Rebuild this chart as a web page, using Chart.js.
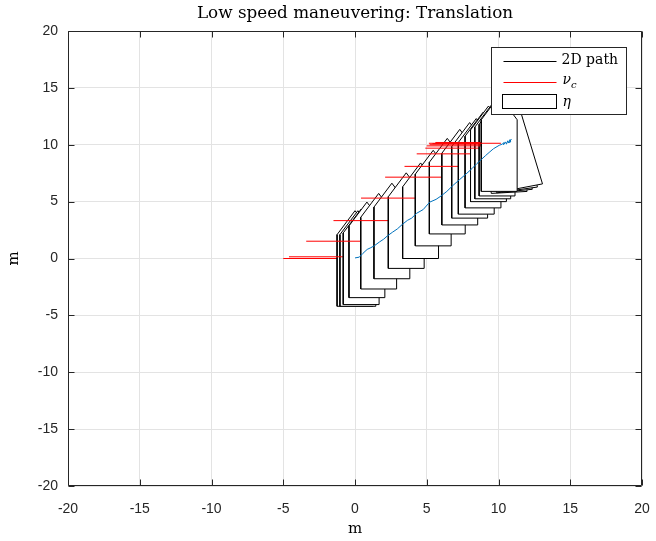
<!DOCTYPE html>
<html lang="en">
<head>
<meta charset="UTF-8">
<title>Low speed maneuvering: Translation</title>
<style>
  html, body { margin: 0; padding: 0; background: #fff; }
  #chart { display: block; }
</style>
</head>
<body>
<canvas id="chart" width="656" height="541"></canvas>
<script src="https://cdn.jsdelivr.net/npm/chart.js@4/dist/chart.umd.min.js"></script>
<script>
const axisTicks = [-20, -15, -10, -5, 0, 5, 10, 15, 20]

// 2D path (drawn blue)
const pathX = [0.00, 0.30, 0.55, 0.85, 1.10, 1.35, 1.70, 2.00, 2.25, 2.60, 2.95, 3.30, 3.65, 3.95, 4.30, 4.75, 5.20, 5.65, 6.00, 6.40,
  6.85, 7.30, 7.80, 8.15, 8.50, 8.80, 9.10, 9.40, 9.65, 10.05, 10.25, 10.40, 10.35, 10.50, 10.55, 10.65, 10.70, 10.80, 10.85, 10.75, 10.90]
const pathY = [0.05, 0.12, 0.45, 0.80, 0.95, 1.12, 1.45, 1.70, 1.98, 2.30, 2.60, 3.00, 3.35, 3.55, 3.98, 4.30, 4.95, 5.20, 5.50, 5.90,
  6.45, 6.95, 7.50, 7.90, 8.35, 8.70, 9.05, 9.38, 9.65, 9.95, 10.05, 10.20, 10.00, 10.25, 10.05, 10.35, 10.15, 10.45, 10.25, 10.20, 10.50]

// eta: vessel position and heading (deg) for each outline
const etaX = [0.00, 0.20, 0.43, 0.83, 1.65, 2.57, 3.57, 4.57, 5.45, 6.43, 7.30, 7.99, 8.45, 8.92, 9.30, 9.60, 9.90, 10.45, 10.60, 10.75, 10.87, 10.05]
const etaY = [0.00, 0.00, 0.15, 0.76, 1.52, 2.42, 3.33, 4.20, 5.31, 6.36, 7.15, 7.75, 8.10, 8.65, 9.20, 9.45, 9.70, 10.00, 10.10, 10.20, 10.35, 10.10]
const etaPsi = [0, 0, 0, 0, 0, 0, 0, 0, 0, 0, 0, 0, 0, 0, 0, 0, 0, 4, 7, 10, 13.5, 0]

// nu_c: current vectors, drawn just under outline number nucEta
const nucX0 = [-5.00, -4.60, -3.40, -1.50, 0.42, 2.10, 3.45, 4.30, 4.90, 5.00, 5.20, 5.40, 5.60, 5.15]
const nucX1 = [0.00, 0.43, 1.65, 3.57, 5.45, 7.30, 8.45, 9.30, 9.90, 10.45, 10.60, 10.75, 10.87, 10.17]
const nucY = [0.00, 0.15, 1.52, 3.33, 5.31, 7.15, 8.10, 9.20, 9.70, 9.90, 10.00, 10.10, 10.20, 10.13]
const nucEta = [0, 2, 4, 6, 8, 10, 12, 14, 16, 17, 18, 19, 20, 22]

// hull outline in body frame (lateral, forward)
const hullHalfBeam = 1.25
const hullHalfLength = 4.2
const hullShoulder = 2.1

function hullPoints(cx, cy, psiDeg) {
  const b = hullHalfBeam, l = hullHalfLength, s = hullShoulder
  const body = [[-b, -l], [b, -l], [b, s], [0, l], [-b, s], [-b, -l]]
  const r = psiDeg * Math.PI / 180
  const c = Math.cos(r), sn = Math.sin(r)
  return body.map(([px, py]) => ({ x: cx + px * c - py * sn, y: cy + px * sn + py * c }))
}

const layers = []
for (let i = 0; i <= etaX.length; i++) {
  nucEta.forEach((e, j) => {
    if (e === i) {
      layers.push({
        data: [{ x: nucX0[j], y: nucY[j] }, { x: nucX1[j], y: nucY[j] }],
        showLine: true, pointRadius: 0, borderColor: '#ff0000', borderWidth: 1, fill: false
      })
    }
  })
  if (i < etaX.length) {
    layers.push({
      data: hullPoints(etaX[i], etaY[i], etaPsi[i]),
      showLine: true, pointRadius: 0, borderColor: '#000000', borderWidth: 1,
      backgroundColor: '#ffffff', fill: 'shape', borderJoinStyle: 'miter'
    })
  }
}
layers.push({
  data: pathX.map((x, i) => ({ x: x, y: pathY[i] })),
  showLine: true, pointRadius: 0, borderColor: '#0072bd', borderWidth: 1, fill: false
})
layers.forEach((ds, i) => { ds.order = layers.length - i })

const tickFont = { family: 'Liberation Sans', size: 14 }
const serif = 'DejaVu Serif'

// MATLAB style box with inward ticks
const axesBox = {
  id: 'axesBox',
  afterDatasetsDraw(chart) {
    const { ctx, chartArea: a, scales } = chart
    const l = Math.round(a.left) + 0.5, r = Math.round(a.right) - 0.5
    const t = Math.round(a.top) + 0.5, b = Math.round(a.bottom) - 0.5
    ctx.save()
    ctx.strokeStyle = '#262626'
    ctx.lineWidth = 1
    ctx.beginPath()
    ctx.rect(l, t, r - l, b - t)
    axisTicks.forEach(v => {
      const px = Math.round(scales.x.getPixelForValue(v)) + 0.5
      ctx.moveTo(px, b); ctx.lineTo(px, b - 6)
      ctx.moveTo(px, t); ctx.lineTo(px, t + 6)
      const py = Math.round(scales.y.getPixelForValue(v)) + 0.5
      ctx.moveTo(l, py); ctx.lineTo(l + 6, py)
      ctx.moveTo(r, py); ctx.lineTo(r - 6, py)
    })
    ctx.stroke()
    ctx.restore()
  }
}

const legendBox = {
  id: 'legendBox',
  afterDraw(chart) {
    const { ctx, chartArea: a } = chart
    const x0 = Math.round(a.right) - 150.5, y0 = Math.round(a.top) + 16.5
    ctx.save()
    ctx.fillStyle = '#fff'
    ctx.strokeStyle = '#262626'
    ctx.lineWidth = 1
    ctx.fillRect(x0, y0, 135, 67)
    ctx.strokeRect(x0, y0, 135, 67)

    ctx.lineWidth = 1
    ctx.strokeStyle = '#000'
    ctx.beginPath(); ctx.moveTo(x0 + 12, y0 + 14); ctx.lineTo(x0 + 65, y0 + 14); ctx.stroke()
    ctx.strokeStyle = '#ff0000'
    ctx.beginPath(); ctx.moveTo(x0 + 12, y0 + 35); ctx.lineTo(x0 + 65, y0 + 35); ctx.stroke()
    ctx.strokeStyle = '#000'
    ctx.strokeRect(x0 + 11, y0 + 47, 54, 14)

    ctx.fillStyle = '#000'
    ctx.textBaseline = 'middle'
    ctx.font = '14px "' + serif + '"'
    ctx.fillText('2D path', x0 + 70, y0 + 13)
    ctx.font = 'italic 14px "' + serif + '"'
    ctx.fillText('ν', x0 + 71, y0 + 33)
    const w = ctx.measureText('ν').width
    ctx.font = 'italic 10px "' + serif + '"'
    ctx.fillText('c', x0 + 71 + w, y0 + 38)
    ctx.font = 'italic 14px "' + serif + '"'
    ctx.fillText('η', x0 + 71, y0 + 55)
    ctx.restore()
  }
}

new Chart(document.getElementById('chart'), {
  type: 'scatter',
  data: { datasets: layers },
  options: {
    responsive: false,
    animation: false,
    events: [],
    layout: { padding: { left: 0, right: 14, top: 0, bottom: 0 } },
    plugins: {
      legend: { display: false },
      tooltip: { enabled: false },
      title: {
        display: true,
        fullSize: false,
        text: 'Low speed maneuvering: Translation',
        color: '#000',
        font: { family: serif, size: 16.8, weight: 'normal' },
        padding: { top: 3.2, bottom: 7.64 }
      }
    },
    scales: {
      x: {
        type: 'linear', min: -20, max: 20,
        afterBuildTicks: s => { s.ticks = axisTicks.map(v => ({ value: v })) },
        afterFit: s => { s.height = 55; s.paddingLeft = 0; s.paddingRight = 0 },
        grid: { color: '#e3e3e3', drawTicks: false },
        border: { display: false },
        ticks: { padding: 15, font: tickFont, color: '#262626', maxRotation: 0, autoSkip: false },
        title: { display: true, text: 'm', color: '#000', font: { family: serif, size: 15 }, padding: { top: 0, bottom: 3 } }
      },
      y: {
        type: 'linear', min: -20, max: 20,
        afterBuildTicks: s => { s.ticks = axisTicks.map(v => ({ value: v })) },
        afterFit: s => { s.width = 68; s.paddingTop = 0; s.paddingBottom = 0 },
        grid: { color: '#e3e3e3', drawTicks: false },
        border: { display: false },
        ticks: { padding: 10, font: tickFont, color: '#262626', autoSkip: false },
        title: { display: true, text: 'm', color: '#000', font: { family: serif, size: 15 }, padding: { top: 5, bottom: 0 } }
      }
    }
  },
  plugins: [axesBox, legendBox]
})
</script>
</body>
</html>
